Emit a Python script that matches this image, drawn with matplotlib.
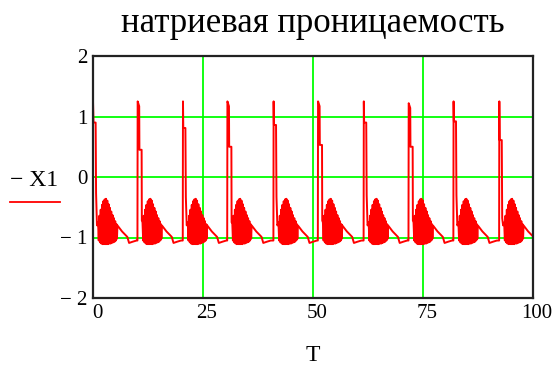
import matplotlib.pyplot as plt
from matplotlib.lines import Line2D
from matplotlib.transforms import ScaledTranslation

plt.rcParams['font.family'] = ['Liberation Serif', 'DejaVu Serif']

# spike onsets and shapes, one entry per cycle
spike_times = [0.0, 10.1, 20.4, 30.5, 41.0, 51.1, 61.5, 71.7, 81.9, 92.3]
spike_tops = [1.25, 1.25, 1.25, 1.25, 1.25, 1.25, 1.25, 1.22, 1.25, 1.25]
plateau_end = [0.05, 0.40, 0.05, 0.40, 0.05, 0.40, 0.05, 0.40, 0.05, 0.05]
step_levels = [0.90, 0.45, 0.81, 0.50, 0.86, 0.53, 0.90, 0.50, 0.92, 0.61]
drop_levels = [-0.27, -0.72, -0.33, -0.75, -0.33, -0.72, -0.30, -0.72, -0.30, -0.68]

# burst of fast oscillations after each spike (offsets from spike onset)
burst_peak_dt = [1.15, 1.45, 1.75, 2.05, 2.35, 2.65, 2.95, 3.25, 3.55, 3.85, 4.15, 4.45, 4.75, 5.05, 5.35]
burst_peak_val = [-0.75, -0.64, -0.54, -0.46, -0.40, -0.37, -0.36, -0.39, -0.45, -0.51, -0.57, -0.63, -0.68, -0.73, -0.78]
burst_low_dt = [1.30, 1.60, 1.90, 2.20, 2.50, 2.80, 3.10, 3.40, 3.70, 4.00, 4.30, 4.60, 4.90, 5.20, 5.45]
burst_low_val = [-1.05, -1.08, -1.10, -1.11, -1.11, -1.11, -1.11, -1.11, -1.10, -1.10, -1.09, -1.08, -1.07, -1.05, -1.02]

# slow relaxation between bursts
decay_dt = [5.55, 6.6, 7.8, 8.2, 9.0, 9.9]
decay_val = [-0.80, -0.90, -0.99, -1.09, -1.07, -1.05]

t, x1 = [], []
for i, s in enumerate(spike_times):
    if i > 0:
        t.append(s); x1.append(-1.05)
    top = spike_tops[i]
    if i == 0:
        t.append(0.0); x1.append(top)
    else:
        t.append(s + 0.05); x1.append(top)
    if plateau_end[i] > 0.1:
        t += [s + plateau_end[i], s + plateau_end[i] + 0.05, s + 0.95, s + 1.0]
        x1 += [top - 0.08, step_levels[i], step_levels[i], drop_levels[i]]
    else:
        t += [s + 0.12, s + 0.6, s + 0.7, s + 0.9]
        x1 += [step_levels[i], step_levels[i], drop_levels[i], -0.8]
    for dp, vp, dl, vl in zip(burst_peak_dt, burst_peak_val, burst_low_dt, burst_low_val):
        t += [s + dp, s + dl]
        x1 += [vp, vl]
    for d, v in zip(decay_dt, decay_val):
        t.append(s + d); x1.append(v)

fig = plt.figure(figsize=(5.57, 3.70), dpi=100)
ax = fig.add_axes([93 / 557, 1 - 298 / 370, 440 / 557, 242 / 370])

ax.plot(t, x1, color='#ff0000', lw=1.4)
ax.set_xlim(0, 100)
ax.set_ylim(-2, 2)
ax.set_xticks([0, 25, 50, 75, 100])
ax.set_xticklabels(['0', '25', '50', '75', '100'])
ax.set_yticks([-2, -1, 0, 1, 2])
ax.set_yticklabels(['\u2212 2', '\u2212 1', '0', '1', '2'])
ax.grid(True, color='#00ff00', lw=1.3)
ax.tick_params(length=0, labelsize=15, pad=4)
for lab in ax.get_xticklabels():
    lab.set_transform(lab.get_transform() + ScaledTranslation(4 / 100, 0, fig.dpi_scale_trans))
for sp in ax.spines.values():
    sp.set_linewidth(1.6)
    sp.set_color('#222222')

ax.set_title('натриевая проницаемость', fontsize=25, pad=17)
ax.set_xlabel('T', fontsize=17, labelpad=16)

fig.text(10 / 557, 1 - 180 / 370, '\u2212 X1', fontsize=17, va='center', ha='left')
fig.add_artist(Line2D([10 / 557, 60 / 557], [1 - 202 / 370] * 2, color='#ff0000', lw=1.3,
                      transform=fig.transFigure))

fig.savefig('out.png', dpi=100)
